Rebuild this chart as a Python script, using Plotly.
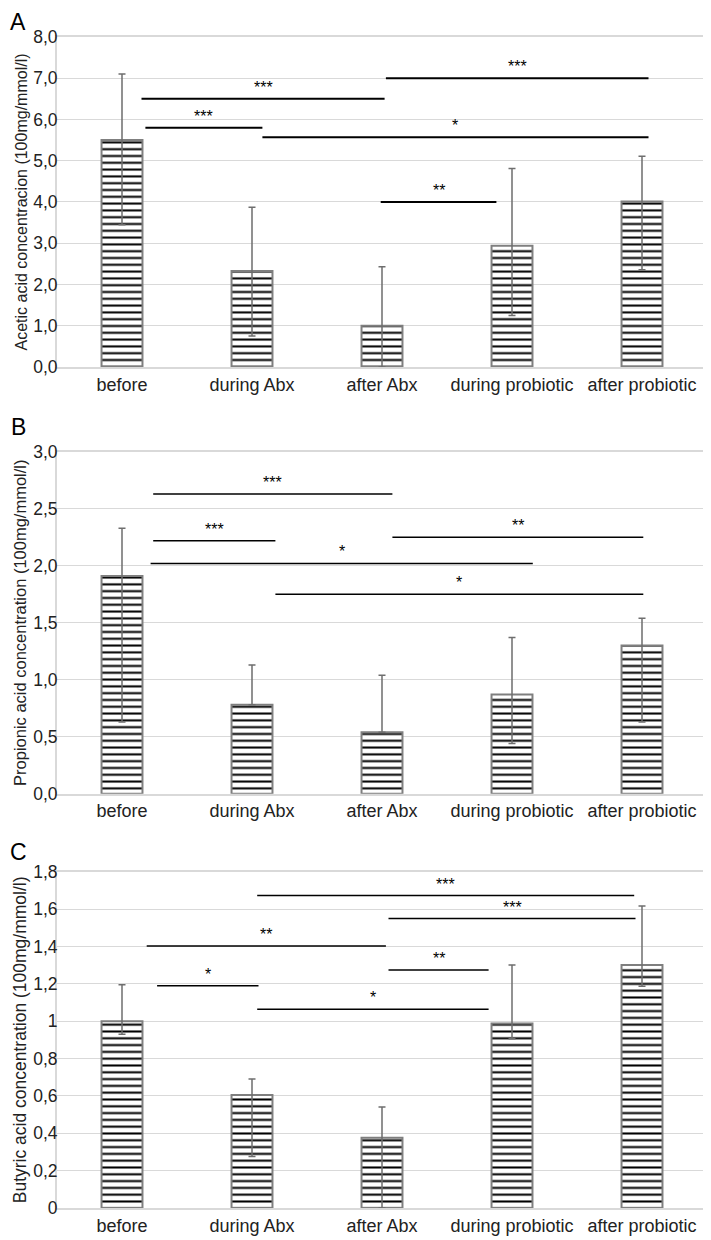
import plotly.graph_objects as go
from plotly.subplots import make_subplots

categories = ["before", "during Abx", "after Abx", "during probiotic", "after probiotic"]

# mean and whisker ends
acetic = [5.5, 2.33, 1.0, 2.94, 4.01]
acetic_hi = [7.1, 3.87, 2.43, 4.81, 5.11]
acetic_lo = [3.45, 0.75, 0.0, 1.25, 2.36]

propionic = [1.91, 0.78, 0.54, 0.87, 1.30]
propionic_hi = [2.33, 1.13, 1.04, 1.37, 1.54]
propionic_lo = [0.63, 0.78, 0.54, 0.44, 0.63]

butyric = [1.0, 0.605, 0.376, 0.987, 1.30]
butyric_hi = [1.195, 0.69, 0.54, 1.30, 1.616]
butyric_lo = [0.93, 0.275, 0.0, 0.906, 1.187]

# significance bars: (from, to, level, stars)
acetic_sig = [(0.15, 2.02, 6.5, "***"), (0.18, 1.08, 5.8, "***"), (2.03, 4.05, 7.0, "***"),
              (1.08, 4.05, 5.57, "*"), (1.99, 2.88, 4.0, "**")]
propionic_sig = [(0.24, 2.08, 2.63, "***"), (0.24, 1.18, 2.22, "***"), (0.22, 3.16, 2.02, "*"),
                 (2.08, 4.01, 2.25, "**"), (1.18, 4.01, 1.75, "*")]
butyric_sig = [(1.04, 3.94, 1.672, "***"), (2.05, 3.95, 1.549, "***"), (0.19, 2.03, 1.402, "**"),
               (0.27, 1.05, 1.19, "*"), (2.05, 2.82, 1.274, "**"), (1.04, 2.82, 1.064, "*")]

panels = [
    ("A", acetic, acetic_hi, acetic_lo, "Acetic acid concentracion (100mg/mmol/l)", 8, 1.0, ".1f", acetic_sig),
    ("B", propionic, propionic_hi, propionic_lo, "Propionic acid concentration (100mg/mmol/l)", 3, 0.5, ".1f", propionic_sig),
    ("C", butyric, butyric_hi, butyric_lo, "Butyric acid concentration (100mg/mmol/l)", 1.8, 0.2, "", butyric_sig),
]

font = "Liberation Sans, Arial, sans-serif"
domains = [[0.7182, 1.0], [0.3538, 0.6458], [0.0, 0.2872]]
label_pos = [(1.0247, "top"), (0.667, "middle"), (0.304, "middle")]
sig_width = [2, 1.5, 1.5]
title_size = [16, 16.5, 17.5]

fig = make_subplots(rows=3, cols=1)

for i, (letter, vals, hi, lo, ytitle, ymax, dtick, fmt, sig) in enumerate(panels):
    row = i + 1
    fig.add_trace(go.Bar(
        x=list(range(len(categories))), y=vals, width=0.315,
        marker=dict(color="white", line=dict(color="#7f7f7f", width=2),
                    pattern=dict(shape="-", fgcolor="black", bgcolor="white", fgopacity=1,
                                 size=6.8, solidity=0.3)),
        error_y=dict(type="data", symmetric=False,
                     array=[h - v for h, v in zip(hi, vals)],
                     arrayminus=[v - l for v, l in zip(vals, lo)],
                     color="#6e6e6e", thickness=1.5, width=3.5),
        showlegend=False,
    ), row=row, col=1)

    fig.update_xaxes(range=[-0.5, 4.5], tickvals=list(range(len(categories))), ticktext=categories,
                     showgrid=False, showline=True, mirror=True, linecolor="#d9d9d9", linewidth=2,
                     ticks="", automargin=False,
                     tickfont=dict(size=18, color="#222"), row=row, col=1)
    fig.update_yaxes(range=[0, ymax], dtick=dtick, tickformat=fmt, domain=domains[i],
                     showgrid=True, gridcolor="#d9d9d9", gridwidth=1, zeroline=False,
                     showline=True, mirror=True, linecolor="#d9d9d9", linewidth=2,
                     ticks="", ticklabelstandoff=-6, automargin=False,
                     tickfont=dict(size=17.5, color="#222"),
                     title=dict(text=ytitle, font=dict(size=title_size[i], color="#222"), standoff=2),
                     row=row, col=1)

    for x0, x1, y, stars in sig:
        # simple_white makes shapes translucent by default
        fig.add_shape(type="line", x0=x0, x1=x1, y0=y, y1=y, opacity=1,
                      line=dict(color="black", width=sig_width[i]), row=row, col=1)
        fig.add_annotation(x=(x0 + x1) / 2, y=y, text=stars, showarrow=False,
                           yanchor="bottom", yshift=1, font=dict(size=16, color="black"),
                           row=row, col=1)

    fig.add_annotation(x=-0.06, y=label_pos[i][0], xref="paper", yref="paper", text=letter,
                       showarrow=False, xanchor="center", yanchor=label_pos[i][1], borderpad=0,
                       font=dict(size=23, color="black"))

# page body has an 8px margin, so the figure is a little smaller than the window
fig.update_layout(
    width=703, height=1232,
    margin=dict(l=49, r=4, t=29, b=32),
    template="simple_white",
    plot_bgcolor="white", paper_bgcolor="white",
    separators=",.",
    font=dict(family=font, color="#222"),
)

fig.write_html("out.html")
